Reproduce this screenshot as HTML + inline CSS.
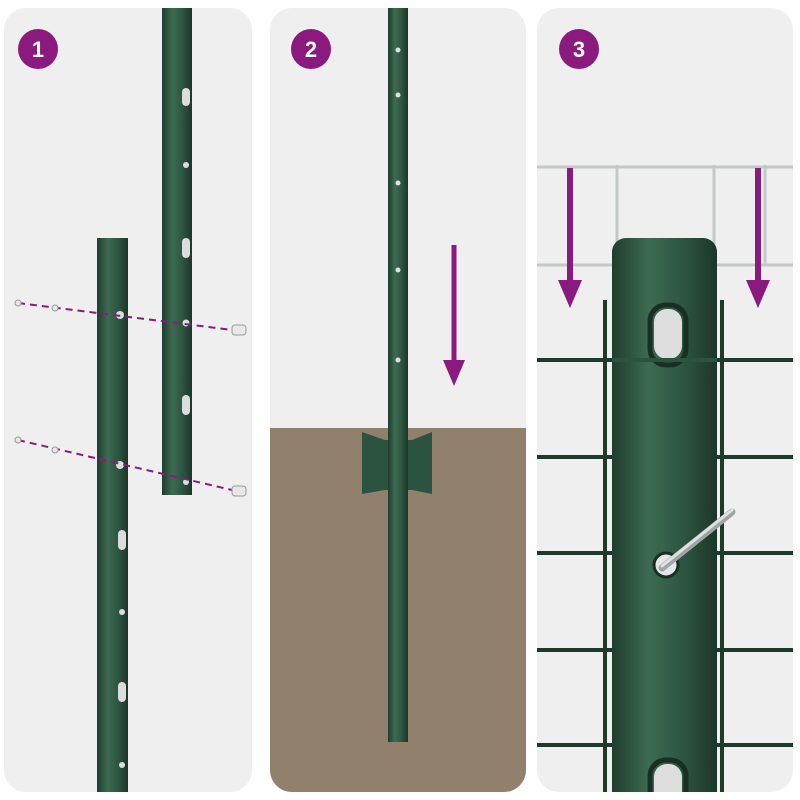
<!DOCTYPE html>
<html><head><meta charset="utf-8"><style>
html,body{margin:0;padding:0;background:#fff}
svg{display:block}
text{font-family:"Liberation Sans",sans-serif;font-weight:bold}
</style></head><body>
<svg width="800" height="800" viewBox="0 0 800 800" xmlns="http://www.w3.org/2000/svg">
<defs>
<linearGradient id="pg" x1="0" x2="1"><stop offset="0" stop-color="#1f3d2e"/><stop offset="0.35" stop-color="#3d6b52"/><stop offset="0.7" stop-color="#2c5340"/><stop offset="1" stop-color="#1c3629"/></linearGradient>
<clipPath id="c1"><rect x="4" y="8" width="248" height="784" rx="22"/></clipPath>
<clipPath id="c2"><rect x="270" y="8" width="256" height="784" rx="22"/></clipPath>
<clipPath id="c3"><rect x="537" y="8" width="256" height="784" rx="22"/></clipPath>
</defs>
<!-- panel 1 -->
<g clip-path="url(#c1)">
<rect x="4" y="8" width="248" height="784" fill="#efefef"/>
<rect x="162" y="8" width="30" height="487" fill="url(#pg)"/>
<rect x="97" y="238" width="31" height="560" fill="url(#pg)"/>
<g fill="#dcdcdc">
<rect x="182" y="88" width="8" height="18" rx="4"/><circle cx="186" cy="165" r="3"/><rect x="182" y="238" width="8" height="20" rx="4"/><circle cx="186" cy="323" r="3.5"/><rect x="182" y="395" width="8" height="20" rx="4"/><circle cx="186" cy="482" r="3"/>
<circle cx="120" cy="315" r="4"/><circle cx="120" cy="465" r="4"/><rect x="118" y="530" width="8" height="20" rx="4"/><circle cx="122" cy="612" r="3"/><rect x="118" y="682" width="8" height="20" rx="4"/><circle cx="122" cy="765" r="3"/>
</g>
<g stroke="#8b1a7f" stroke-width="2" stroke-dasharray="7 5" fill="none">
<line x1="18" y1="303" x2="232" y2="330"/><line x1="18" y1="440" x2="232" y2="490"/>
</g>
<g fill="#e8e8e8" stroke="#999" stroke-width="1">
<circle cx="18" cy="303" r="3"/><circle cx="55" cy="308" r="3"/><circle cx="18" cy="440" r="3"/><circle cx="55" cy="450" r="3"/>
<rect x="232" y="325" width="14" height="10" rx="3"/><rect x="232" y="486" width="14" height="10" rx="3"/>
</g>
</g>
<!-- panel 2 -->
<g clip-path="url(#c2)">
<rect x="270" y="8" width="256" height="784" fill="#efefef"/>
<rect x="270" y="428" width="256" height="370" fill="#8c7a67"/>
<rect x="270" y="428" width="256" height="370" fill="#a08e78" opacity="0.3"/>
<rect x="388" y="8" width="20" height="734" fill="url(#pg)"/>
<path d="M362 432 L385 440 L412 440 L432 432 L432 494 L412 490 L385 490 L362 494 Z" fill="#2c5340"/>
<rect x="388" y="430" width="20" height="70" fill="url(#pg)"/>
<g fill="#e0e0e0"><circle cx="398" cy="50" r="2.5"/><circle cx="398" cy="95" r="2.5"/><circle cx="398" cy="183" r="2.5"/><circle cx="398" cy="270" r="2.5"/><circle cx="398" cy="360" r="2.5"/></g>
<line x1="454" y1="245" x2="454" y2="365" stroke="#8b1a7f" stroke-width="5"/>
<path d="M443 360 L465 360 L454 386 Z" fill="#8b1a7f"/>
</g>
<!-- panel 3 -->
<g clip-path="url(#c3)">
<rect x="537" y="8" width="256" height="784" fill="#efefef"/>
<g stroke="#c3cac5" stroke-width="3" fill="none">
<line x1="537" y1="167" x2="793" y2="167"/><line x1="537" y1="265" x2="793" y2="265"/>
<line x1="617" y1="165" x2="617" y2="265"/><line x1="714" y1="165" x2="714" y2="265"/><line x1="765" y1="165" x2="765" y2="265"/>
</g>
<g stroke="#1d3a2a" stroke-width="4">
<line x1="537" y1="360" x2="793" y2="360"/><line x1="537" y1="457" x2="793" y2="457"/><line x1="537" y1="553" x2="793" y2="553"/><line x1="537" y1="650" x2="793" y2="650"/><line x1="537" y1="745" x2="793" y2="745"/>
<line x1="605" y1="300" x2="605" y2="800"/><line x1="722" y1="300" x2="722" y2="800"/>
</g>
<rect x="612" y="238" width="105" height="570" rx="14" fill="url(#pg)"/>
<rect x="650" y="305" width="36" height="60" rx="16" fill="none" stroke="#1a2f24" stroke-width="5"/>
<rect x="654" y="309" width="28" height="50" rx="13" fill="#dedede"/>
<g stroke="#2c5340" stroke-width="4"><line x1="612" y1="360" x2="717" y2="360"/></g>
<circle cx="666" cy="565" r="12" fill="#e6e6e6" stroke="#1a2f24" stroke-width="3"/>
<line x1="662" y1="568" x2="732" y2="512" stroke="#9fa4a6" stroke-width="7" stroke-linecap="round"/>
<line x1="662" y1="566" x2="732" y2="510" stroke="#dfe2e3" stroke-width="3" stroke-linecap="round"/>
<rect x="650" y="760" width="36" height="50" rx="16" fill="none" stroke="#1a2f24" stroke-width="5"/>
<rect x="654" y="764" width="28" height="40" rx="13" fill="#dedede"/>
<g fill="#8b1a7f">
<rect x="567" y="168" width="6" height="115"/><path d="M558 280 L582 280 L570 308 Z"/>
<rect x="755" y="168" width="6" height="115"/><path d="M746 280 L770 280 L758 308 Z"/>
</g>
</g>
<!-- badges -->
<g fill="#8b1a7f"><circle cx="38" cy="49" r="20"/><circle cx="311" cy="49" r="20"/><circle cx="579" cy="49" r="20"/></g>
<g fill="#fff" font-size="22" text-anchor="middle"><text x="38" y="57">1</text><text x="311" y="57">2</text><text x="579" y="57">3</text></g>
</svg>
</body></html>
